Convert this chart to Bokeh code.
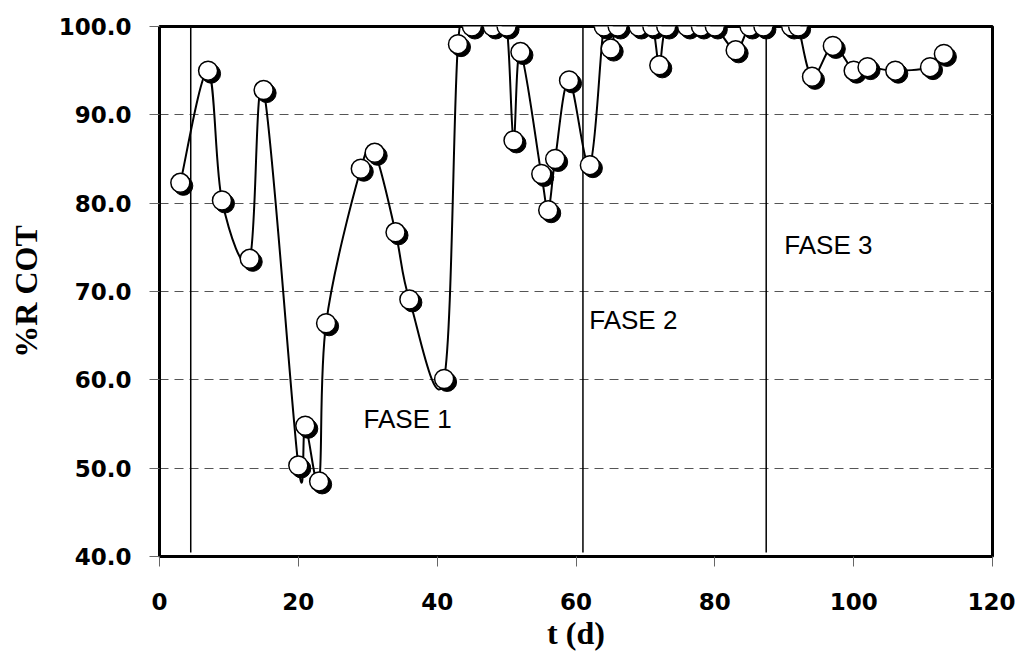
from bokeh.plotting import figure
from bokeh.models import (ColumnDataSource, FixedTicker, NumeralTickFormatter,
                          Range1d, Label)
from bokeh.embed import file_html
from bokeh.resources import INLINE

# ---- data ----
t_days = [3, 7, 9, 13, 15, 20, 21, 23, 24, 29, 31, 34, 36, 41, 43, 45, 48, 50,
          51, 52, 55, 56, 57, 59, 62, 64, 65, 66, 69, 71, 72, 73, 76, 78, 80,
          83, 85, 87, 91, 92, 94, 97, 100, 102, 106, 111, 113]
r_cot = [82.3, 95.0, 80.3, 73.7, 92.8, 50.3, 54.8, 48.5, 66.4, 83.9, 85.7,
         76.7, 69.1, 60.1, 98.0, 100.0, 100.0, 100.0, 87.1, 97.1, 83.3, 79.2,
         85.0, 93.9, 84.3, 100.0, 97.5, 100.0, 100.0, 100.0, 95.6, 100.0,
         100.0, 100.0, 100.0, 97.3, 100.0, 100.0, 100.0, 100.0, 94.3, 97.8,
         95.0, 95.4, 95.0, 95.4, 96.9]
phase_x = [4.5, 61.0, 87.4]
phase_labels = ["FASE 1", "FASE 2", "FASE 3"]
phase_label_x = [29.4, 61.9, 90.0]
phase_label_y = [55.6, 66.8, 75.3]
x_ticks = [0, 20, 40, 60, 80, 100, 120]
y_ticks = [40, 50, 60, 70, 80, 90, 100]

# ---- layout ----
X0, X1, Y0, Y1 = 0, 120, 40, 100
W, H = 1015, 660
ML, MT, MR, MB = 159, 26, 23, 104
fw, fh = W - ML - MR, H - MT - MB

p = figure(width=W, height=H, output_backend="svg", toolbar_location=None,
           x_range=Range1d(X0, X1), y_range=Range1d(Y0, Y1),
           min_border_left=ML, min_border_top=MT, min_border_right=MR,
           min_border_bottom=MB, background_fill_color="white",
           border_fill_color="white")
p.outline_line_color = "black"
p.outline_line_width = 3
p.xgrid.visible = False
p.ygrid.ticker = FixedTicker(ticks=y_ticks)
p.ygrid.grid_line_color = "#555555"
p.ygrid.grid_line_dash = "9 6"
p.ygrid.grid_line_width = 1

for ax in (p.xaxis[0], p.yaxis[0]):
    ax.axis_line_color = "black"
    ax.axis_line_width = 3
    ax.major_tick_out = 10
    ax.major_tick_in = 0
    ax.minor_tick_out = 0
    ax.minor_tick_in = 0
    ax.major_tick_line_color = "#666666"
    ax.major_label_text_font = "DejaVu Sans"
    ax.major_label_text_font_style = "bold"
    ax.major_label_text_font_size = "23px"
    ax.major_label_text_color = "black"
    ax.axis_label_text_font = "Liberation Serif"
    ax.axis_label_text_font_style = "bold"
    ax.axis_label_text_font_size = "32px"
    ax.axis_label_text_color = "black"

p.xaxis.ticker = FixedTicker(ticks=x_ticks)
p.yaxis.ticker = FixedTicker(ticks=y_ticks)
p.yaxis.formatter = NumeralTickFormatter(format="0.0")
p.xaxis.major_label_standoff = 26
p.yaxis.major_label_standoff = 18
p.xaxis.axis_label = "t (d)"
p.yaxis.axis_label = "%R COT"
p.xaxis.axis_label_standoff = 2
p.yaxis.axis_label_standoff = 12

# phase separators
p.segment(x0=phase_x, x1=phase_x, y0=[Y0 + 0.45] * 3, y1=[Y1 + 0.45] * 3,
          line_color="black", line_width=1.5)

# smoothed connecting line (Catmull-Rom -> cubic Bezier, like Excel smoothing)
n = len(t_days)
bx0, by0, bx1, by1, cx0, cy0, cx1, cy1 = ([] for _ in range(8))
for i in range(n - 1):
    p0 = (t_days[max(i - 1, 0)], r_cot[max(i - 1, 0)])
    p1 = (t_days[i], r_cot[i])
    p2 = (t_days[i + 1], r_cot[i + 1])
    p3 = (t_days[min(i + 2, n - 1)], r_cot[min(i + 2, n - 1)])
    bx0.append(p1[0]); by0.append(p1[1])
    bx1.append(p2[0]); by1.append(p2[1])
    cx0.append(p1[0] + (p2[0] - p0[0]) / 6); cy0.append(p1[1] + (p2[1] - p0[1]) / 6)
    cx1.append(p2[0] - (p3[0] - p1[0]) / 6); cy1.append(p2[1] - (p3[1] - p1[1]) / 6)
p.bezier(x0=bx0, y0=by0, x1=bx1, y1=by1, cx0=cx0, cy0=cy0, cx1=cx1, cy1=cy1,
         line_color="black", line_width=2)

# markers with a drop shadow offset of 3px right / 3px down
sx = 3 * (X1 - X0) / fw
sy = 3 * (Y1 - Y0) / fh
shadow = ColumnDataSource(dict(x=[v + sx for v in t_days], y=[v - sy for v in r_cot]))
pts = ColumnDataSource(dict(x=t_days, y=r_cot))
p.scatter("x", "y", source=shadow, size=19, marker="circle",
          fill_color="black", line_color="black")
p.scatter("x", "y", source=pts, size=19, marker="circle",
          fill_color="white", line_color="black", line_width=1.5)

for lab, lx, ly in zip(phase_labels, phase_label_x, phase_label_y):
    p.add_layout(Label(x=lx, y=ly, text=lab, text_font="Liberation Sans",
                       text_font_size="26px", text_color="black",
                       text_baseline="middle", text_align="left"))

open("out.html", "w").write(file_html(p, INLINE))
